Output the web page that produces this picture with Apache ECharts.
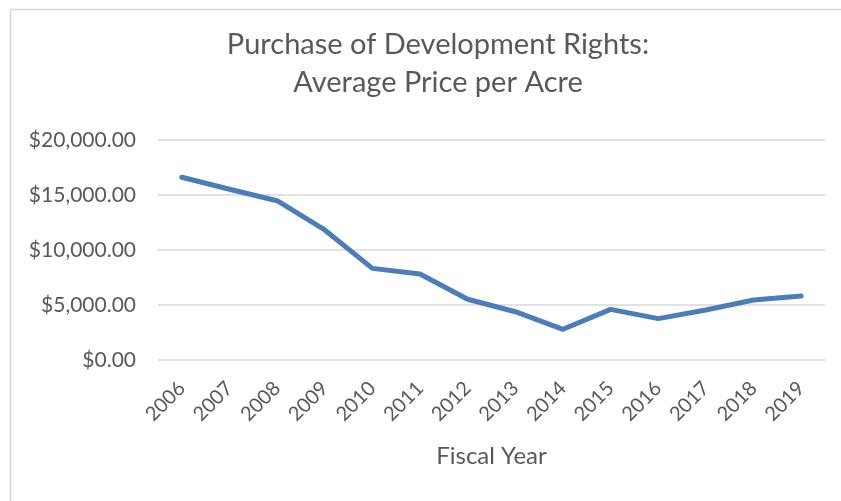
<!DOCTYPE html>
<html>
<head>
<meta charset="utf-8">
<script src="https://cdn.jsdelivr.net/npm/echarts@6/dist/echarts.min.js"></script>
<style>html,body{margin:0;padding:0;background:#fff}#c{width:841px;height:501px}</style>
</head>
<body>
<div id="c"></div>
<script>
const titleLines = ['Purchase of Development Rights:', 'Average Price per Acre'];
const years = ['2006','2007','2008','2009','2010','2011','2012','2013','2014','2015','2016','2017','2018','2019'];
const avgPrice = [16610, 15520, 14480, 11820, 8330, 7820, 5520, 4390, 2790, 4600, 3760, 4550, 5450, 5820];
const yTicks = [0, 5000, 10000, 15000, 20000];
const xAxisName = 'Fiscal Year';

const FONT = 'Lato, "Open Sans", sans-serif';
const chart = echarts.init(document.getElementById('c'), null, {renderer: 'canvas'});
chart.setOption({
  animation: false,
  backgroundColor: '#fff',
  graphic: [{
    type: 'rect', silent: true, z: -10,
    shape: {x: 10.5, y: 9.5, width: 840, height: 500},
    style: {fill: 'none', stroke: '#d9d9d9', lineWidth: 1.5}
  }],
  title: {
    text: titleLines.join('\n'),
    left: 433, top: 21, textAlign: 'center',
    textStyle: {fontFamily: FONT, fontSize: 29, fontWeight: 'normal', color: '#595959', lineHeight: 38}
  },
  grid: {left: 158, right: 16, top: 140, bottom: 141, containLabel: false},
  xAxis: {
    type: 'category', data: years, boundaryGap: true,
    axisLine: {show: false}, axisTick: {show: false},
    axisLabel: {rotate: 45, margin: 25, fontFamily: FONT, fontSize: 20, color: '#595959', interval: 0},
    name: xAxisName, nameLocation: 'middle', nameGap: 84,
    nameTextStyle: {fontFamily: FONT, fontSize: 24, color: '#595959'}
  },
  yAxis: {
    type: 'value', min: yTicks[0], max: yTicks[yTicks.length - 1], interval: 5000,
    axisLine: {show: false}, axisTick: {show: false},
    splitLine: {lineStyle: {color: '#d9d9d9', width: 1.5}},
    axisLabel: {
      margin: 22, fontFamily: FONT, fontSize: 21, color: '#595959',
      formatter: v => '$' + v.toLocaleString('en-US', {minimumFractionDigits: 2, maximumFractionDigits: 2})
    }
  },
  series: [{
    type: 'line', data: avgPrice, symbol: 'none',
    lineStyle: {color: '#4a7ebb', width: 5, cap: 'round', join: 'round'},
    itemStyle: {color: '#4a7ebb'}
  }]
});
</script>
</body>
</html>
